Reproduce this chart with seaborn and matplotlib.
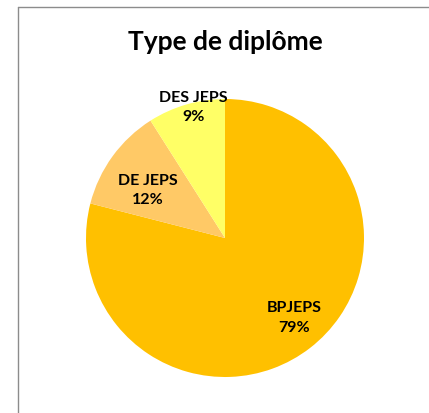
import matplotlib
matplotlib.use("Agg")
import matplotlib.pyplot as plt
import seaborn as sns
import numpy as np
from matplotlib.lines import Line2D

sns.set_theme(style="white")
plt.rcParams['font.family'] = ['Lato', 'DejaVu Sans']

categories = ["BPJEPS", "DE JEPS", "DES JEPS"]
values = [79, 12, 9]
colors = ["#FFC000", "#FFC966", "#FFFF66"]
label_dist = [0.755, 0.655, 0.973]
label_angle_shift = [3.3, 3.8, -2.7]

W, H = 429, 414
fig = plt.figure(figsize=(W / 100, H / 100), dpi=100)
fig.patch.set_facecolor("white")

cx, cy, r = 225, 239, 139
ax = fig.add_axes([(cx - r) / W, (H - cy - r) / H, 2 * r / W, 2 * r / H])
wedges, _ = ax.pie(values, colors=colors, startangle=90, counterclock=False,
                   radius=1, wedgeprops=dict(linewidth=0))
ax.set_xlim(-1, 1)
ax.set_ylim(-1, 1)
ax.axis("off")

total = sum(values)
for w, cat, v, d, s in zip(wedges, categories, values, label_dist, label_angle_shift):
    ang = np.deg2rad((w.theta1 + w.theta2) / 2 + s)
    ax.text(d * np.cos(ang), d * np.sin(ang), f"{cat}\n{round(100 * v / total)}%",
            ha="center", va="center", fontsize=11.5, fontweight="bold",
            color="black", linespacing=1.5)

fig.text(cx / W, 1 - 42 / H, "Type de diplôme", ha="center", va="center",
         fontsize=19, fontweight="bold", color="black")

# chart frame (left and top edges visible)
fig.add_artist(Line2D([18 / W, 18 / W], [0, 1 - 8 / H], transform=fig.transFigure,
                      color="#8c8c8c", linewidth=1))
fig.add_artist(Line2D([18 / W, 1], [1 - 8 / H, 1 - 8 / H], transform=fig.transFigure,
                      color="#8c8c8c", linewidth=1))

fig.savefig("out.png", dpi=100, facecolor="white")
